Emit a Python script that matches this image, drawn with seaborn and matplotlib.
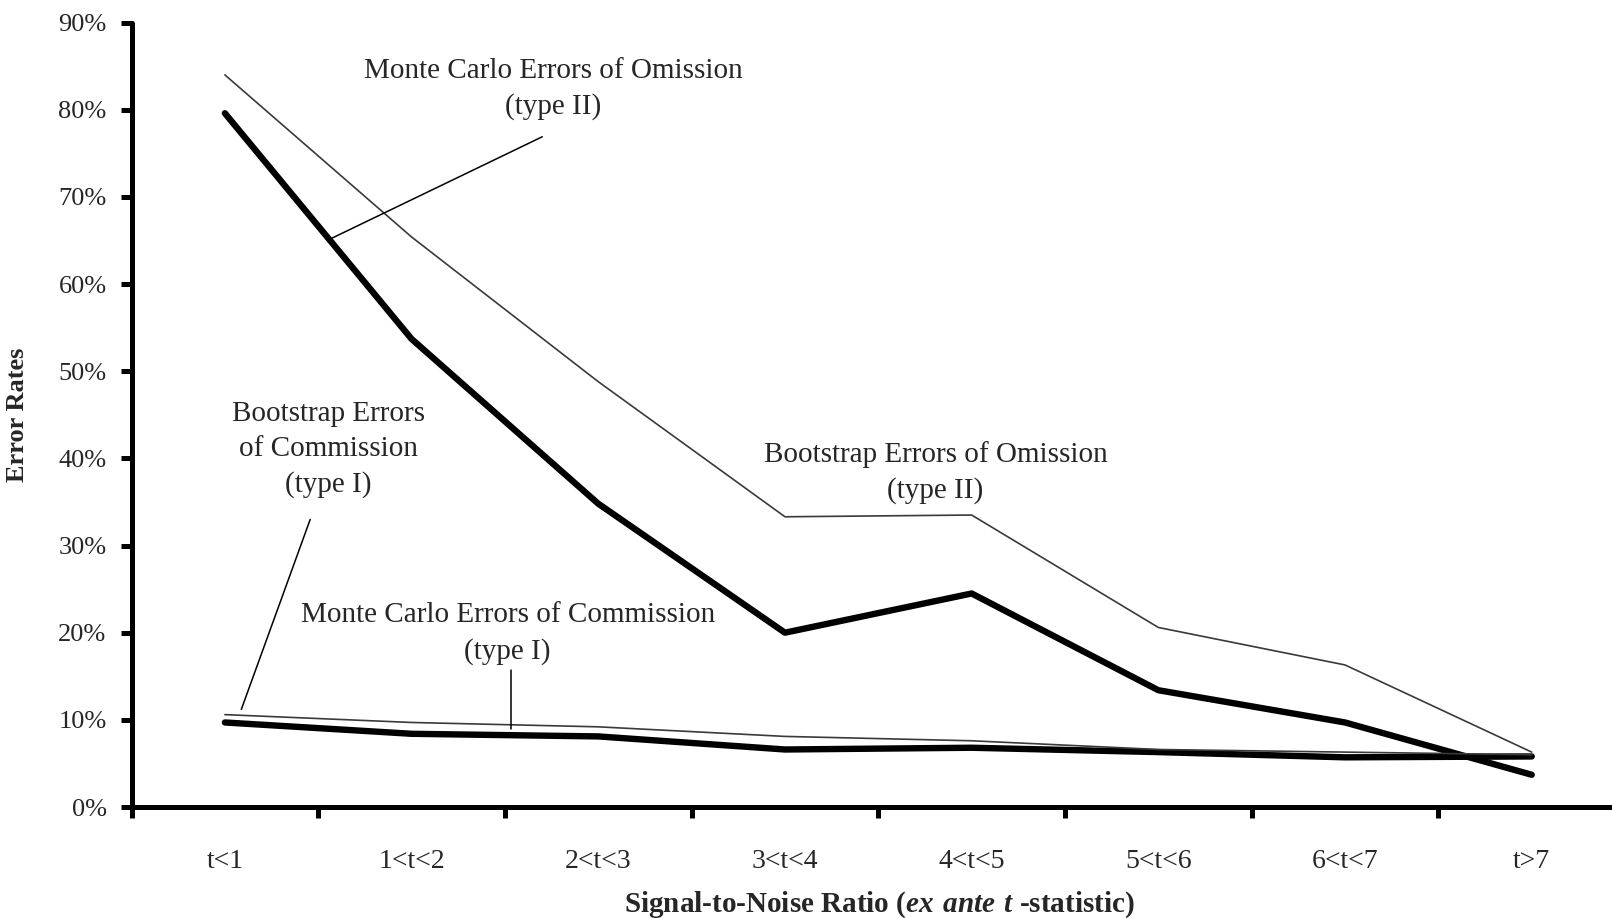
import numpy as np
import pandas as pd
import matplotlib
matplotlib.use("Agg")
import matplotlib.pyplot as plt
import matplotlib.ticker as mticker
import seaborn as sns

# error rates by ex ante t-statistic bucket
categories = ["t<1", "1<t<2", "2<t<3", "3<t<4", "4<t<5", "5<t<6", "6<t<7", "t>7"]
mc_omission = [0.796, 0.537, 0.348, 0.200, 0.245, 0.134, 0.097, 0.037]
bs_omission = [0.840, 0.654, 0.488, 0.333, 0.335, 0.206, 0.163, 0.063]
mc_commission = [0.097, 0.084, 0.081, 0.066, 0.068, 0.063, 0.057, 0.058]
bs_commission = [0.106, 0.097, 0.092, 0.081, 0.076, 0.066, 0.063, 0.060]
y_ticks = [0.0, 0.1, 0.2, 0.3, 0.4, 0.5, 0.6, 0.7, 0.8, 0.9]

sns.set_style("white")
plt.rcParams["font.family"] = ["Liberation Serif", "DejaVu Serif"]
plt.rcParams["mathtext.fontset"] = "custom"
plt.rcParams["mathtext.bfit"] = "Liberation Serif:bold:italic"
plt.rcParams["mathtext.rm"] = "Liberation Serif:bold"

pos = np.arange(len(categories))
df = pd.DataFrame({
    "pos": pos,
    "mc_omission": mc_omission,
    "bs_omission": bs_omission,
    "mc_commission": mc_commission,
    "bs_commission": bs_commission,
})

fig = plt.figure(figsize=(16.12, 9.18), dpi=100)
ax = fig.add_axes([0.0816, 0.1209, 1 - 0.0816, 0.9754 - 0.1209])

# thick = Monte Carlo, thin = bootstrap
for col in ["mc_omission", "mc_commission"]:
    sns.lineplot(data=df, x="pos", y=col, ax=ax, color="black", linewidth=4.6,
                 solid_capstyle="round", zorder=3)
for col in ["bs_omission", "bs_commission"]:
    sns.lineplot(data=df, x="pos", y=col, ax=ax, color="#3a3a3a", linewidth=1.2,
                 zorder=4)

ax.set_xlim(-0.5, 7.43)
ax.set_ylim(0, 0.9)
ax.set_yticks(y_ticks)
ax.yaxis.set_major_formatter(mticker.PercentFormatter(1.0, decimals=0))
ax.set_xticks(pos, categories)
ax.xaxis.set_minor_locator(mticker.FixedLocator(np.arange(-0.5, 7.0, 1.0)))

for s in ["top", "right"]:
    ax.spines[s].set_visible(False)
for s in ["left", "bottom"]:
    ax.spines[s].set_linewidth(3.6)
    ax.spines[s].set_color("black")
    ax.spines[s].set_capstyle("round")

ax.tick_params(axis="y", which="major", direction="out", length=8, width=3.6,
               labelsize=19, pad=10, left=True, color="black")
ax.tick_params(axis="x", which="major", length=0, labelsize=20, pad=30)
ax.tick_params(axis="x", which="minor", direction="out", length=8, width=3.6,
               bottom=True, color="black")

ax.set_ylabel("Error Rates", fontsize=19, fontweight="bold")
ax.yaxis.set_label_coords(-0.069, 0.5)
ax.set_xlabel(r"Signal-to-Noise Ratio ($\mathbfit{ex\ ante\ t}$ -statistic)",
              fontsize=21, fontweight="bold")
ax.xaxis.set_label_coords(0.505, -0.105)

txt = dict(fontsize=21, ha="center", va="center", linespacing=1.45, zorder=5)
ax.text(1.757, 0.824, "Monte Carlo Errors of Omission\n(type II)", **txt)
ax.text(3.807, 0.384, "Bootstrap Errors of Omission\n(type II)", **txt)
ax.text(0.556, 0.410, "Bootstrap Errors\nof Commission\n(type I)", **txt)
ax.text(1.515, 0.199, "Monte Carlo Errors of Commission\n(type I)", **txt)

# pointer lines
ax.plot([1.70, 0.567], [0.769, 0.652], color="black", linewidth=1.1, zorder=5)
ax.plot([0.457, 0.088], [0.330, 0.112], color="black", linewidth=1.1, zorder=5)
ax.plot([1.532, 1.532], [0.157, 0.090], color="black", linewidth=1.1, zorder=5)

fig.savefig("out.png", dpi=100)
